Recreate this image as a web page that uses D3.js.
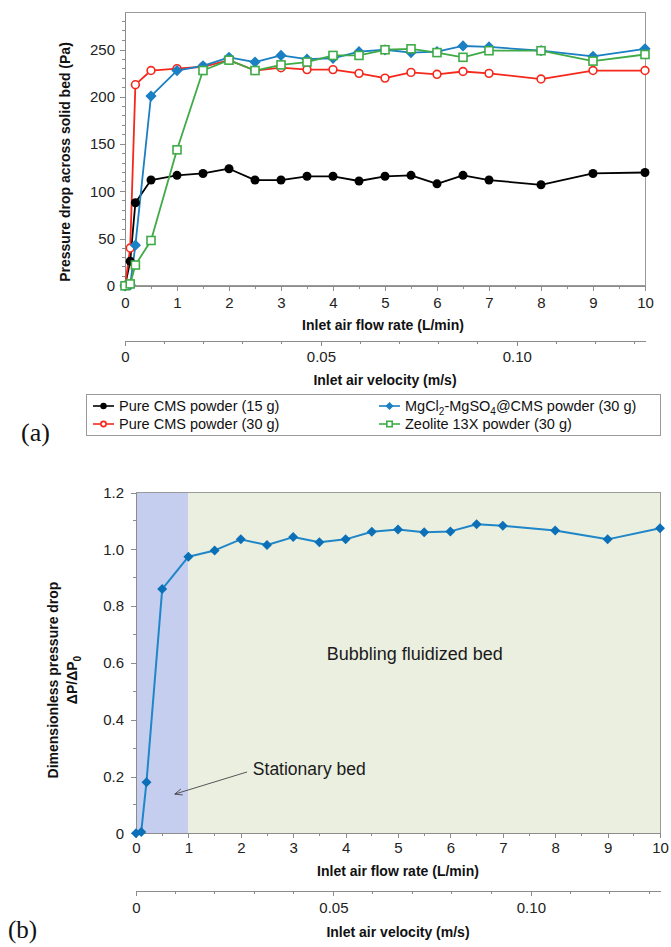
<!DOCTYPE html>
<html>
<head>
<meta charset="utf-8">
<script src="https://cdn.jsdelivr.net/npm/d3@7"></script>
<style>
  html, body { margin: 0; padding: 0; background: #fff; }
  svg { display: block; font-family: "Liberation Sans", Arial, sans-serif; }
  .axis path, .axis line { stroke: #8c8c8c; shape-rendering: crispEdges; }
  .axis text { fill: #222; font-size: 15px; font-family: "Liberation Sans", Arial, sans-serif; }
  .title { font-size: 14px; font-weight: bold; fill: #111; }
</style>
</head>
<body>
<svg id="chart" width="671" height="947"></svg>
<script>
// ---------- data ----------
const flowRate = [0, 0.1, 0.2, 0.5, 1, 1.5, 2, 2.5, 3, 3.5, 4, 4.5, 5, 5.5, 6, 6.5, 7, 8, 9, 10];
const cms15    = [0, 26, 88, 112, 117, 119, 124, 112, 112, 116, 116, 111, 116, 117, 108, 117, 112, 107, 119, 120];
const cms30    = [0, 40, 213, 228, 230, 232, 239, 228, 231, 229, 229, 225, 220, 226, 224, 227, 225, 219, 228, 228];
const mgcl     = [0, 1, 43, 201, 228, 233, 242, 237, 244, 240, 241, 248, 250, 247, 248, 254, 253, 249, 243, 251];
const zeolite  = [0, 2, 22, 48, 144, 228, 239, 228, 234, 237, 244, 244, 250, 251, 247, 242, 249, 249, 238, 245];
const dimless  = [0, 0.005, 0.18, 0.86, 0.974, 0.996, 1.035, 1.015, 1.043, 1.025, 1.035, 1.062, 1.07, 1.06, 1.063, 1.088, 1.083, 1.066, 1.035, 1.074];

const seriesNames = ["Pure CMS powder (15 g)", "Pure CMS powder (30 g)", "MgCl2-MgSO4@CMS powder (30 g)", "Zeolite 13X powder (30 g)"];
const seriesColors = ["#000000", "#f5281c", "#1b7fc3", "#3fab47"];
const seriesSymbols = ["dot", "circle", "diamond", "square"];

const flowTicks = [0,1,2,3,4,5,6,7,8,9,10];
const velTicks = [0, 0.05, 0.10];
const velTickLabels = ["0", "0.05", "0.10"];
const velMax = 0.1327;
const pressureTicks = [0, 50, 100, 150, 200, 250];
const dimTicks = [0, 0.2, 0.4, 0.6, 0.8, 1.0, 1.2];
const dimTickLabels = ["0", "0.2", "0.4", "0.6", "0.8", "1.0", "1.2"];
const stationaryEnd = 1;

const svg = d3.select("#chart");

function drawSymbol(g, type, x, y, color, r) {
  if (type === "dot") {
    g.append("circle").attr("cx", x).attr("cy", y).attr("r", r).attr("fill", color);
  } else if (type === "circle") {
    g.append("circle").attr("cx", x).attr("cy", y).attr("r", r - 0.6).attr("fill", "#fff").attr("stroke", color).attr("stroke-width", 1.6);
  } else if (type === "diamond") {
    const d = r * 1.25;
    g.append("path").attr("d", `M${x},${y-d}L${x+d},${y}L${x},${y+d}L${x-d},${y}Z`).attr("fill", color);
  } else if (type === "square") {
    const s = r - 0.5;
    g.append("rect").attr("x", x - s).attr("y", y - s).attr("width", 2*s).attr("height", 2*s).attr("fill", "#fff").attr("stroke", color).attr("stroke-width", 1.6);
  }
}

function range(a, b, step) { const out = []; for (let v = a; v <= b + 1e-9; v += step) out.push(+v.toFixed(4)); return out; }

// ================= Chart (a) =================
const xA = d3.scaleLinear().domain([0, 10]).range([125, 645]);
const yA = d3.scaleLinear().domain([0, 290]).range([285.8, 12]);
const vA = d3.scaleLinear().domain([0, velMax]).range([125, 645]);

const gA = svg.append("g");
gA.append("rect").attr("x", xA(0)).attr("y", yA(290)).attr("width", xA(10) - xA(0)).attr("height", yA(0) - yA(290))
  .attr("fill", "none").attr("stroke", "#9a9a9a").attr("stroke-width", 1).attr("shape-rendering", "crispEdges");

function minorX(g, scale, y0, vals) {
  g.append("g").selectAll("line").data(vals).join("line")
   .attr("x1", d => scale(d)).attr("x2", d => scale(d)).attr("y1", y0).attr("y2", y0 + 3)
   .attr("stroke", "#8c8c8c").attr("shape-rendering", "crispEdges");
}
function minorY(g, scale, x0, vals) {
  g.append("g").selectAll("line").data(vals).join("line")
   .attr("y1", d => scale(d)).attr("y2", d => scale(d)).attr("x1", x0).attr("x2", x0 - 3)
   .attr("stroke", "#8c8c8c").attr("shape-rendering", "crispEdges");
}

gA.append("g").attr("class", "axis").attr("transform", `translate(0,${yA(0)})`)
  .call(d3.axisBottom(xA).tickValues(flowTicks).tickFormat(d3.format("d")).tickSize(5).tickSizeOuter(0).tickPadding(7));
minorX(gA, xA, yA(0), range(0.5, 9.5, 1));
gA.append("g").attr("class", "axis").attr("transform", `translate(${xA(0)},0)`)
  .call(d3.axisLeft(yA).tickValues(pressureTicks).tickSize(5).tickSizeOuter(0).tickPadding(5));
minorY(gA, yA, xA(0), range(10, 280, 10).filter(v => v % 50 !== 0));

const velYA = 340.7;
gA.append("g").attr("class", "axis").attr("transform", `translate(0,${velYA})`)
  .call(d3.axisBottom(vA).tickValues(velTicks).tickFormat((d, i) => velTickLabels[i]).tickSize(5).tickSizeOuter(0).tickPadding(6));
minorX(gA, vA, velYA, range(0.01, 0.13, 0.01).filter(v => Math.abs(v - 0.05) > 1e-6 && Math.abs(v - 0.1) > 1e-6));

gA.append("text").attr("class", "title").attr("x", 383).attr("y", 330).attr("text-anchor", "middle").text("Inlet air flow rate (L/min)");
gA.append("text").attr("class", "title").attr("x", 385).attr("y", 385).attr("text-anchor", "middle").text("Inlet air velocity (m/s)");
gA.append("text").attr("class", "title").attr("transform", "translate(70,162) rotate(-90)").attr("text-anchor", "middle").text("Pressure drop across solid bed (Pa)");

const seriesData = [cms15, cms30, mgcl, zeolite];
const lineA = d3.line().x((d, i) => xA(flowRate[i])).y(d => yA(d));
seriesData.forEach((vals, s) => {
  gA.append("path").datum(vals).attr("d", lineA).attr("fill", "none").attr("stroke", seriesColors[s]).attr("stroke-width", 1.8).attr("stroke-linejoin", "round");
});
seriesData.forEach((vals, s) => {
  const gm = gA.append("g");
  vals.forEach((v, i) => drawSymbol(gm, seriesSymbols[s], xA(flowRate[i]), yA(v), seriesColors[s], 4.5));
});

// legend
const leg = svg.append("g");
leg.append("rect").attr("x", 86.5).attr("y", 394.5).attr("width", 574).attr("height", 41)
  .attr("fill", "#fff").attr("stroke", "#9a9a9a").attr("stroke-width", 1);
const legPos = [[93, 406], [93, 424], [379, 406], [379, 424]];
seriesNames.forEach((name, s) => {
  const [lx, ly] = legPos[s];
  leg.append("line").attr("x1", lx).attr("x2", lx + 21).attr("y1", ly).attr("y2", ly).attr("stroke", seriesColors[s]).attr("stroke-width", 1.6);
  drawSymbol(leg, seriesSymbols[s], lx + 10.5, ly, seriesColors[s], 3.2);
  const t = leg.append("text").attr("x", lx + 26).attr("y", ly + 5).attr("font-size", "14.5px").attr("fill", "#111");
  if (name.startsWith("MgCl2")) {
    t.append("tspan").text("MgCl");
    t.append("tspan").attr("dy", 4).attr("font-size", "10px").text("2");
    t.append("tspan").attr("dy", -4).text("-MgSO");
    t.append("tspan").attr("dy", 4).attr("font-size", "10px").text("4");
    t.append("tspan").attr("dy", -4).text("@CMS powder (30 g)");
  } else {
    t.text(name);
  }
});

svg.append("text").attr("x", 21).attr("y", 441).attr("font-family", "'Liberation Serif', 'Times New Roman', serif").attr("font-size", "26px").attr("fill", "#111").text("(a)");

// ================= Chart (b) =================
const xB = d3.scaleLinear().domain([0, 10]).range([136, 660]);
const yB = d3.scaleLinear().domain([0, 1.2]).range([833.3, 492.5]);
const vB = d3.scaleLinear().domain([0, velMax]).range([136, 660]);
const gB = svg.append("g");

gB.append("rect").attr("x", xB(0)).attr("y", yB(1.2)).attr("width", xB(stationaryEnd) - xB(0)).attr("height", yB(0) - yB(1.2)).attr("fill", "#c6cef0");
gB.append("rect").attr("x", xB(stationaryEnd)).attr("y", yB(1.2)).attr("width", xB(10) - xB(stationaryEnd)).attr("height", yB(0) - yB(1.2)).attr("fill", "#ebefe0");
gB.append("rect").attr("x", xB(0)).attr("y", yB(1.2)).attr("width", xB(10) - xB(0)).attr("height", yB(0) - yB(1.2))
  .attr("fill", "none").attr("stroke", "#9a9a9a").attr("stroke-width", 1).attr("shape-rendering", "crispEdges");

gB.append("g").attr("class", "axis").attr("transform", `translate(0,${yB(0)})`)
  .call(d3.axisBottom(xB).tickValues(flowTicks).tickFormat(d3.format("d")).tickSize(5).tickSizeOuter(0).tickPadding(4.5));
minorX(gB, xB, yB(0), range(0.5, 9.5, 1));
gB.append("g").attr("class", "axis").attr("transform", `translate(${xB(0)},0)`)
  .call(d3.axisLeft(yB).tickValues(dimTicks).tickFormat((d, i) => dimTickLabels[i]).tickSize(5).tickSizeOuter(0).tickPadding(7));
minorY(gB, yB, xB(0), [0.1, 0.3, 0.5, 0.7, 0.9, 1.1]);

const velYB = 891;
gB.append("g").attr("class", "axis").attr("transform", `translate(0,${velYB})`)
  .call(d3.axisBottom(vB).tickValues(velTicks).tickFormat((d, i) => velTickLabels[i]).tickSize(5).tickSizeOuter(0).tickPadding(6.5));
minorX(gB, vB, velYB, range(0.01, 0.13, 0.01).filter(v => Math.abs(v - 0.05) > 1e-6 && Math.abs(v - 0.1) > 1e-6));

gB.append("text").attr("class", "title").attr("x", 398).attr("y", 876).attr("text-anchor", "middle").text("Inlet air flow rate (L/min)");
gB.append("text").attr("class", "title").attr("x", 398).attr("y", 937).attr("text-anchor", "middle").text("Inlet air velocity (m/s)");
const yt = gB.append("text").attr("class", "title").attr("transform", "translate(58,680) rotate(-90)").attr("text-anchor", "middle");
yt.text("Dimensionless pressure drop");
const yt2 = gB.append("text").attr("class", "title").attr("transform", "translate(77,680) rotate(-90)").attr("text-anchor", "middle");
yt2.append("tspan").text("\u0394P/\u0394P");
yt2.append("tspan").attr("dy", 4).attr("font-size", "10px").text("0");

// annotations
gB.append("text").attr("x", xB(7.0)).attr("y", yB(0.61)).attr("text-anchor", "end").attr("font-size", "18px").attr("fill", "#1a1a1a").text("Bubbling fluidized bed");
gB.append("text").attr("x", xB(2.23)).attr("y", yB(0.205)).attr("font-size", "17.5px").attr("fill", "#1a1a1a").text("Stationary bed");
const ax1 = xB(2.12), ay1 = yB(0.216), ax2 = xB(0.74), ay2 = yB(0.138);
gB.append("line").attr("x1", ax1).attr("y1", ay1).attr("x2", ax2).attr("y2", ay2).attr("stroke", "#444").attr("stroke-width", 0.9);
const ang = Math.atan2(ay1 - ay2, ax1 - ax2);
[0.4, -0.4].forEach(da => {
  gB.append("line").attr("x1", ax2).attr("y1", ay2)
    .attr("x2", ax2 + 8 * Math.cos(ang + da)).attr("y2", ay2 + 8 * Math.sin(ang + da))
    .attr("stroke", "#444").attr("stroke-width", 0.9);
});

const lineB = d3.line().x((d, i) => xB(flowRate[i])).y(d => yB(d));
gB.append("path").datum(dimless).attr("d", lineB).attr("fill", "none").attr("stroke", "#1f86c8").attr("stroke-width", 2).attr("stroke-linejoin", "round");
const gmB = gB.append("g");
dimless.forEach((v, i) => drawSymbol(gmB, "diamond", xB(flowRate[i]), yB(v), "#0b70b7", 4));

svg.append("text").attr("x", 8).attr("y", 938).attr("font-family", "'Liberation Serif', 'Times New Roman', serif").attr("font-size", "25px").attr("fill", "#111").text("(b)");
</script>
</body>
</html>
